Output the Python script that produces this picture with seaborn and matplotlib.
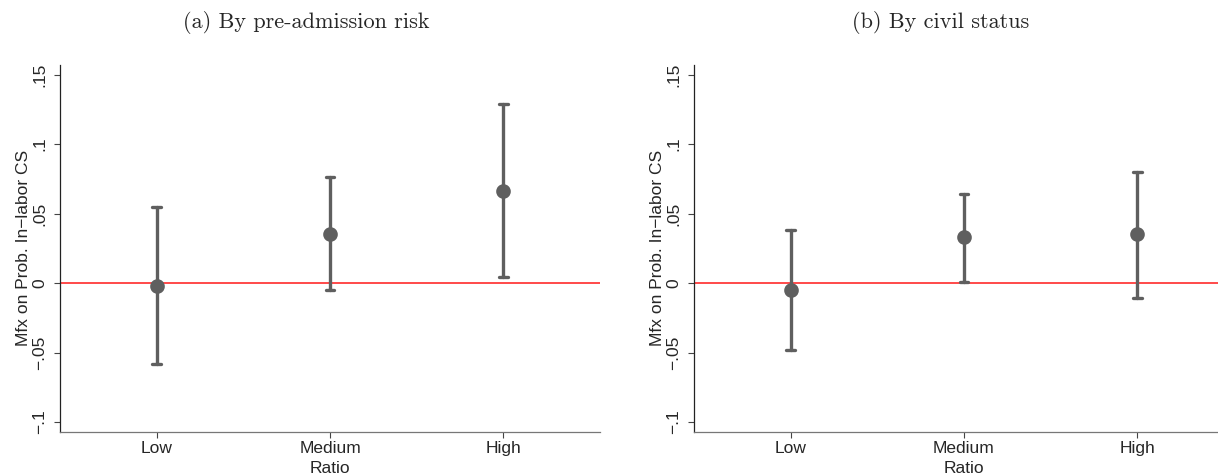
import pandas as pd
import matplotlib.pyplot as plt
import seaborn as sns

# valores (estimativa e intervalo de confiança)
categorias = ['Low', 'Medium', 'High']

risco_est = [-0.002, 0.035, 0.066]
risco_lo = [-0.058, -0.005, 0.004]
risco_hi = [0.055, 0.076, 0.129]

civil_est = [-0.005, 0.033, 0.035]
civil_lo = [-0.048, 0.001, -0.011]
civil_hi = [0.038, 0.064, 0.080]

titulos = ['(a) By pre-admission risk', '(b) By civil status']
yticks = [-0.1, -0.05, 0, 0.05, 0.1, 0.15]
ytick_labels = ['\u2212.1', '\u2212.05', '0', '.05', '.1', '.15']

sns.set_style('white')
plt.rcParams['font.family'] = ['Liberation Sans', 'DejaVu Sans']


def montar_df(est, lo, hi):
    linhas = []
    for c, e, l, h in zip(categorias, est, lo, hi):
        for v in (l, e, h):
            linhas.append({'Ratio': c, 'valor': v})
    return pd.DataFrame(linhas)


fig = plt.figure(figsize=(12.18, 4.76), dpi=100)
ax1 = fig.add_axes([0.0493, 0.0931, 0.4433, 0.7704])
ax2 = fig.add_axes([0.5698, 0.0931, 0.4433, 0.7704])

dados = [montar_df(risco_est, risco_lo, risco_hi),
         montar_df(civil_est, civil_lo, civil_hi)]
cinza = '#5f5f5f'

for ax, df, titulo, xc in zip([ax1, ax2], dados, titulos, [0.2515, 0.772]):
    ax.axhline(0, color='#ff3b3b', lw=1.3, zorder=1)
    sns.pointplot(data=df, x='Ratio', y='valor', order=categorias,
                  estimator='median', errorbar=lambda v: (v.min(), v.max()),
                  linestyle='none', color=cinza, markers='o', markersize=8.5,
                  capsize=0.05, err_kws={'linewidth': 2.4, 'color': cinza},
                  ax=ax, zorder=3)
    ax.set_xlim(-0.558, 2.558)
    ax.set_ylim(-0.107, 0.157)
    ax.set_yticks(yticks)
    ax.set_yticklabels(ytick_labels, rotation=90, va='center')
    ax.tick_params(axis='both', labelsize=12.5, length=4, width=0.8,
                   color='#444444', direction='out', left=True, bottom=True)
    ax.tick_params(axis='y', pad=5)
    ax.tick_params(axis='x', pad=3)
    ax.set_xlabel('Ratio', fontsize=12.5, labelpad=3)
    ax.set_ylabel('Mfx on Prob. In\u2212labor CS', fontsize=12.5, labelpad=1)
    sns.despine(ax=ax)
    ax.spines['left'].set_color('#222222')
    ax.spines['bottom'].set_color('#777777')
    ax.spines['left'].set_linewidth(0.9)
    ax.spines['bottom'].set_linewidth(0.9)
    fig.text(xc, 0.953, titulo, ha='center', va='center', fontsize=16,
             family=['cmr10', 'DejaVu Serif'])

fig.savefig('out.png', dpi=100)
